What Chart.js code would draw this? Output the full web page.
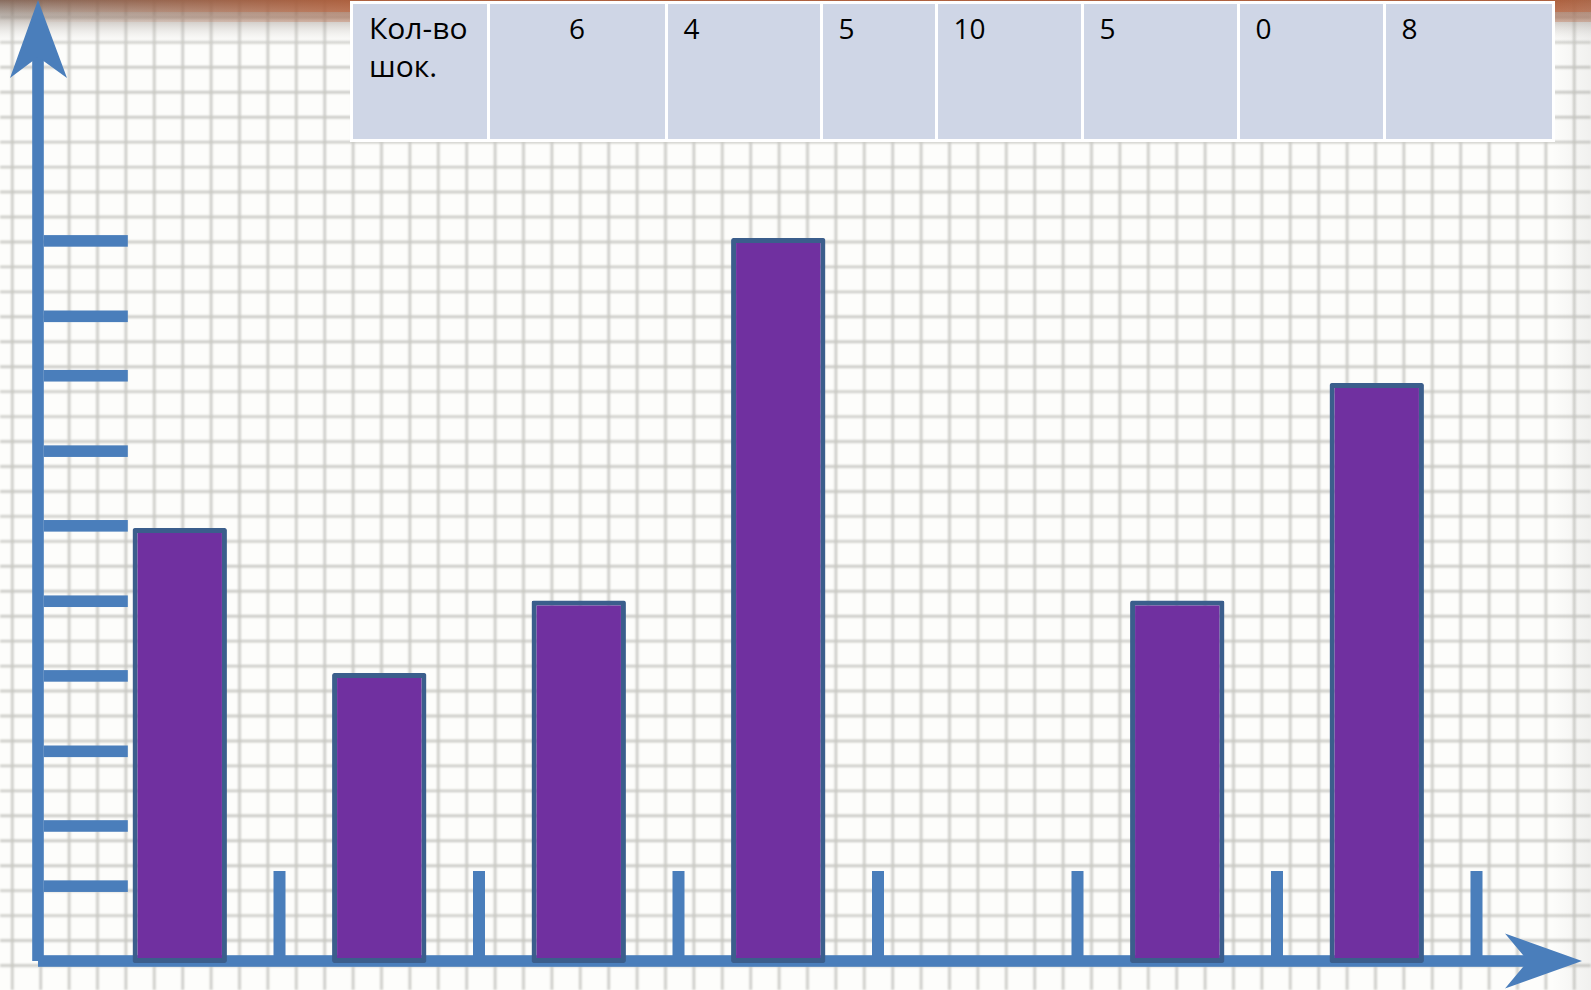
<!DOCTYPE html>
<html lang="ru">
<head>
<meta charset="utf-8">
<title>Кол-во шок.</title>
<script src="https://cdn.jsdelivr.net/npm/chart.js@4.4.1/dist/chart.umd.min.js"></script>
<style>
    html, body { margin: 0; padding: 0; }
    body { width: 1591px; height: 990px; overflow: hidden; position: relative; background: #fdfdfb; }
    #chart { position: absolute; left: 0; top: 0; }
    #table { position: absolute; left: 0; top: 0; }
    .frame { position: absolute; background: #ffffff; }
    .cell {
        position: absolute;
        box-sizing: border-box;
        background: #cfd6e6;
        font-family: "Open Sans", "Liberation Sans", sans-serif;
        font-size: 28px;
        line-height: 38.5px;
        color: #000;
        padding: 4.5px 0 0 16px;
        white-space: nowrap;
    }
    .cell.label { font-size: 30px; padding-top: 4.5px; }
    .cell.center { text-align: center; padding-left: 0; }
</style>
</head>
<body>
<canvas id="chart" width="1591" height="990"></canvas>
<div id="table"></div>

<script>
// ---------- DATA ----------
const categories = ['1', '2', '3', '4', '5', '6', '7'];
const barValues = [6, 4, 5, 10, 0, 5, 8];          // bars as drawn
const tableLabel = ['Кол-во', 'шок.'];
const tableValues = [6, 4, 5, 10, 5, 0, 8];        // numbers written in the table
const yTickMarks = [1.06, 1.89, 2.92, 3.96, 4.99, 6.03, 7.06, 8.1, 8.92, 9.96];

// ---------- STYLE ----------
const AXIS_COLOR = '#4a7ebb';
const BAR_FILL = '#7030a0';
const BAR_BORDER = '#3b5e8c';
const TABLE_EDGES = [353, 488, 666, 821, 936, 1082, 1238, 1384, 1552];
const Y_AXIS_X = 38;

// ---------- TABLE ----------
function buildTable() {
    const host = document.getElementById('table');
    const frame = document.createElement('div');
    frame.className = 'frame';
    frame.style.left = (TABLE_EDGES[0] - 3) + 'px';
    frame.style.top = '1px';
    frame.style.width = (TABLE_EDGES[TABLE_EDGES.length - 1] - TABLE_EDGES[0] + 6) + 'px';
    frame.style.height = '141px';
    host.appendChild(frame);

    const texts = [tableLabel.join('<br>')].concat(tableValues.map(String));
    const last = TABLE_EDGES.length - 2;
    texts.forEach((t, i) => {
        const cell = document.createElement('div');
        cell.className = 'cell' + (i === 0 ? ' label' : '') + (i === 1 ? ' center' : '');
        const l = TABLE_EDGES[i] + (i > 0 ? 1.5 : 0);
        const r = TABLE_EDGES[i + 1] - (i < last ? 1.5 : 0);
        cell.style.left = l + 'px';
        cell.style.top = '4px';
        cell.style.width = (r - l) + 'px';
        cell.style.height = '135px';
        cell.innerHTML = t;
        host.appendChild(cell);
    });
}

// ---------- PAPER BACKGROUND ----------
const paperPlugin = {
    id: 'paper',
    beforeDraw(chart) {
        const ctx = chart.ctx;
        const W = chart.width, H = chart.height;
        ctx.save();
        ctx.fillStyle = '#fdfdfb';
        ctx.fillRect(0, 0, W, H);

        ctx.filter = 'blur(1.1px)';
        ctx.strokeStyle = 'rgba(125,125,115,0.42)';
        ctx.lineWidth = 2.4;
        ctx.beginPath();
        for (let x = 12.3; x < W; x += 28.4) {
            ctx.moveTo(x, 0);
            ctx.lineTo(x, H);
        }
        for (let y = -7.55; y < H; y += 24.95) {
            ctx.moveTo(0, y);
            ctx.lineTo(W, y);
        }
        ctx.stroke();
        ctx.filter = 'none';

        // blurred edge of the photo at the top
        const g = ctx.createLinearGradient(0, 0, 0, 46);
        g.addColorStop(0, 'rgba(130,100,85,0.95)');
        g.addColorStop(0.3, 'rgba(140,125,115,0.65)');
        g.addColorStop(0.65, 'rgba(190,185,180,0.3)');
        g.addColorStop(1, 'rgba(255,255,255,0)');
        ctx.fillStyle = g;
        ctx.fillRect(0, 0, W, 46);

        const o = ctx.createLinearGradient(0, 0, 360, 0);
        o.addColorStop(0, 'rgba(190,85,40,0)');
        o.addColorStop(1, 'rgba(195,90,45,0.75)');
        ctx.fillStyle = o;
        ctx.globalAlpha = 0.85;
        ctx.fillRect(0, 0, W, 12);
        ctx.globalAlpha = 0.4;
        ctx.fillRect(0, 12, W, 10);
        ctx.globalAlpha = 1;

        const rg = ctx.createLinearGradient(1552, 0, W, 0);
        rg.addColorStop(0, 'rgba(150,150,150,0)');
        rg.addColorStop(1, 'rgba(150,150,150,0.12)');
        ctx.fillStyle = rg;
        ctx.fillRect(1552, 0, W - 1552, H);
        ctx.restore();
    }
};

// ---------- AXES, ARROWS, TICK MARKS ----------
const axesPlugin = {
    id: 'handAxes',
    beforeDatasetsDraw(chart) {
        const ctx = chart.ctx;
        const area = chart.chartArea;
        const xs = chart.scales.x;
        const ys = chart.scales.y;
        const axisX = Y_AXIS_X;
        const axisY = ys.getPixelForValue(0) - 2;
        const T = 11.6;

        ctx.save();
        ctx.fillStyle = AXIS_COLOR;

        // vertical axis + arrow
        ctx.fillRect(axisX - T / 2, 57, T, axisY - 57);
        ctx.beginPath();
        ctx.moveTo(axisX, 0);
        ctx.lineTo(axisX + 29, 78);
        ctx.lineTo(axisX, 57);
        ctx.lineTo(axisX - 28, 78);
        ctx.closePath();
        ctx.fill();

        // horizontal axis + arrow
        const notch = area.right + 51.5;
        ctx.fillRect(axisX, axisY - T / 2, notch - axisX, T);
        ctx.beginPath();
        ctx.moveTo(area.right + 105.5, axisY);
        ctx.lineTo(area.right + 28.5, axisY + 27.5);
        ctx.lineTo(notch, axisY);
        ctx.lineTo(area.right + 28.5, axisY - 27.5);
        ctx.closePath();
        ctx.fill();

        // y tick marks
        yTickMarks.forEach(v => {
            const y = ys.getPixelForValue(v);
            ctx.fillRect(axisX + T / 2, y - T / 2, 84, T);
        });

        // x tick marks between categories
        const step = xs.getPixelForValue(1) - xs.getPixelForValue(0);
        categories.forEach((c, i) => {
            const x = xs.getPixelForValue(i) + step / 2;
            ctx.fillRect(x - 6, axisY - 90, 12, 90);
        });
        ctx.restore();
    }
};

// ---------- CHART ----------
function drawChart() {
    new Chart(document.getElementById('chart'), {
        type: 'bar',
        data: {
            labels: categories,
            datasets: [{
                data: barValues,
                backgroundColor: BAR_FILL,
                borderColor: BAR_BORDER,
                borderWidth: 5,
                borderRadius: 2,
                borderSkipped: false,
                categoryPercentage: 1,
                barPercentage: 0.473
            }]
        },
        options: {
            responsive: false,
            animation: false,
            layout: { padding: { left: 80, right: 114.5, top: 238, bottom: 27 } },
            plugins: { legend: { display: false }, tooltip: { enabled: false } },
            scales: {
                x: { type: 'category', display: false, offset: true },
                y: { display: false, min: 0, max: 10 }
            }
        },
        plugins: [paperPlugin, axesPlugin]
    });
}

buildTable();
drawChart();
</script>
</body>
</html>
